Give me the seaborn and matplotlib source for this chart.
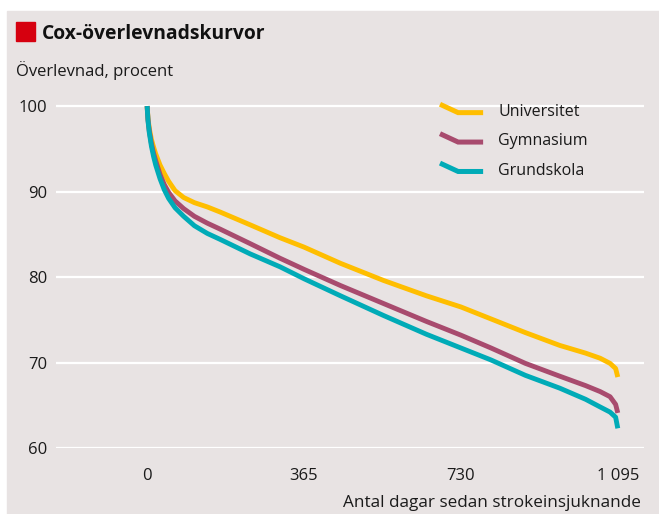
import numpy as np
import pandas as pd
import matplotlib
matplotlib.use("Agg")
import matplotlib.pyplot as plt
import seaborn as sns
from matplotlib.lines import Line2D
from matplotlib.patches import Rectangle
from matplotlib.legend_handler import HandlerBase

# --- data ---
days = [0, 2, 5, 10, 15, 20, 30, 40, 50, 65, 85, 110, 140, 170, 240, 309,
        365, 450, 550, 650, 730, 800, 880, 960, 1020, 1054, 1077, 1090, 1095]
universitet = [100, 98.6, 97.4, 96.1, 95.2, 94.4, 93.1, 92.1, 91.2, 90.1, 89.3,
               88.7, 88.2, 87.6, 86.1, 84.6, 83.5, 81.6, 79.6, 77.8, 76.5,
               75.1, 73.5, 72.0, 71.1, 70.5, 69.9, 69.3, 68.3]
gymnasium = [100, 98.4, 97.1, 95.6, 94.5, 93.6, 92.0, 90.8, 89.9, 88.9, 88.0,
             87.1, 86.3, 85.6, 83.9, 82.2, 80.9, 79.0, 76.9, 74.8, 73.2,
             71.7, 69.9, 68.4, 67.3, 66.6, 66.0, 65.1, 64.1]
grundskola = [100, 98.3, 96.9, 95.3, 94.1, 93.1, 91.5, 90.2, 89.2, 88.1, 87.1,
              86.0, 85.1, 84.4, 82.7, 81.2, 79.8, 77.8, 75.5, 73.3, 71.7,
              70.3, 68.5, 67.0, 65.7, 64.8, 64.2, 63.6, 62.3]
groups = ["Universitet", "Gymnasium", "Grundskola"]
colors = ["#ffbe00", "#a84b6e", "#00abb7"]
x_ticks = [0, 365, 730, 1095]
x_ticklabels = ["0", "365", "730", "1 095"]
y_ticks = [60, 70, 80, 90, 100]

df = pd.concat([
    pd.DataFrame({"dag": days, "overlevnad": vals, "grupp": g})
    for g, vals in zip(groups, [universitet, gymnasium, grundskola])
])

bg = "#e8e3e3"
txt = "#1a1a1a"
sns.set_style("white")
plt.rcParams["font.family"] = ["Open Sans", "DejaVu Sans"]

W, H = 659, 514
fig = plt.figure(figsize=(W / 100, H / 100), dpi=100, facecolor="white")
fig.patches.append(Rectangle((7 / W, 0), 1 - 7 / W, 1 - 11 / H,
                             transform=fig.transFigure, color=bg, zorder=-10))
fig.patches.append(Rectangle((16 / W, 1 - 41 / H), 19 / W, 19 / H,
                             transform=fig.transFigure, color="#d6000f"))

ax = fig.add_axes([56 / W, 1 - 448 / H, (644 - 56) / W, (448 - 97.5) / H])
ax.set_facecolor("none")

sns.lineplot(data=df, x="dag", y="overlevnad", hue="grupp", hue_order=groups,
             palette=colors, linewidth=3.5, errorbar=None, ax=ax, legend=False,
             zorder=3, solid_capstyle="butt")

ax.set_xlim(-212, 1156)
ax.set_ylim(60, 101)
ax.set_yticks(y_ticks)
ax.set_xticks(x_ticks)
ax.set_xticklabels(x_ticklabels)
for y in y_ticks:
    ax.axhline(y, color="white", lw=1.6, zorder=1)
for s in ax.spines.values():
    s.set_visible(False)
ax.tick_params(axis="y", length=0, pad=6.5, labelsize=12, labelcolor=txt)
ax.tick_params(axis="x", length=6, width=1, color=txt, pad=8.5,
               labelsize=12, labelcolor=txt, direction="out")
ax.set_xlabel("")
ax.set_ylabel("")


class KinkHandler(HandlerBase):
    def create_artists(self, legend, orig_handle, xdescent, ydescent,
                       width, height, fontsize, trans):
        x0 = -xdescent
        yc = -ydescent + height / 2
        xs = [x0, x0 + width * 0.42, x0 + width]
        ys = [yc + height * 0.55, yc - height * 0.2, yc - height * 0.2]
        line = Line2D(xs, ys, color=orig_handle.get_color(), lw=3.6,
                      solid_joinstyle="miter", solid_capstyle="butt")
        line.set_transform(trans)
        return [line]


handles = ax.lines[:3]
leg = ax.legend(handles, groups, handler_map={Line2D: KinkHandler()},
                loc="upper left", bbox_to_anchor=(440 / W, 1 - 104 / H),
                bbox_transform=fig.transFigure, frameon=False, fontsize=11.5,
                handlelength=2.7, handletextpad=0.95, labelspacing=0.84,
                borderpad=0, borderaxespad=0)
for t in leg.get_texts():
    t.set_color(txt)

fig.text(42 / W, 1 - 39 / H, "Cox-överlevnadskurvor", fontsize=13.9,
         fontweight="bold", color="#111111", va="baseline", ha="left")
fig.text(16 / W, 1 - 76 / H, "Överlevnad, procent", fontsize=12,
         color=txt, va="baseline", ha="left")
fig.text(641 / W, 1 - 507 / H, "Antal dagar sedan strokeinsjuknande",
         fontsize=12.3, color=txt, va="baseline", ha="right")

fig.savefig("out.png", dpi=100, facecolor="white")
